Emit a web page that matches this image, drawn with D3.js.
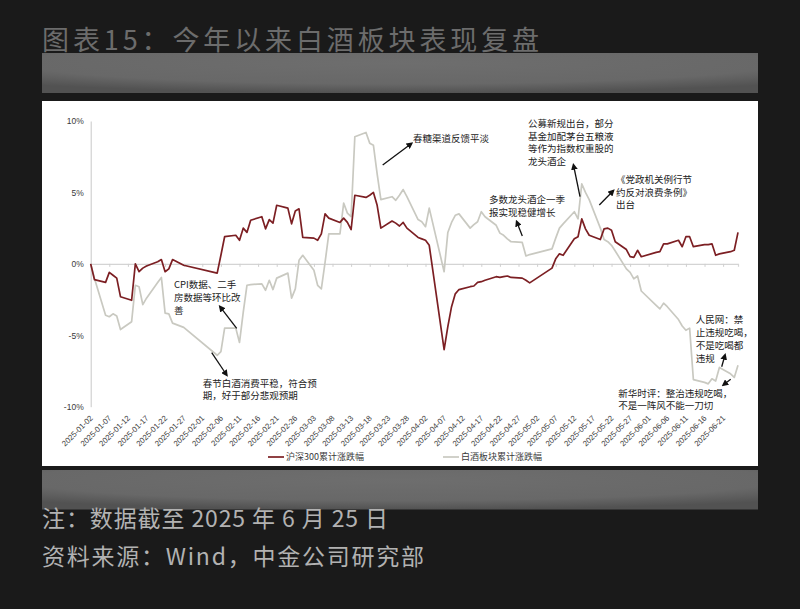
<!DOCTYPE html>
<html><head><meta charset="utf-8">
<script src="https://cdn.jsdelivr.net/npm/d3@7"></script>
<style>
html,body{margin:0;padding:0;background:#1a1a1a;}
svg{display:block;}
</style></head><body>
<svg id="c" width="800" height="609"></svg>
<script>
// ---------------- DATA ----------------
const tradeDates = [
"2025-01-02","2025-01-03","2025-01-06","2025-01-07","2025-01-08","2025-01-09","2025-01-10","2025-01-13","2025-01-14","2025-01-15","2025-01-16","2025-01-17","2025-01-20","2025-01-21","2025-01-22","2025-01-23","2025-01-24","2025-01-27",
"2025-02-05","2025-02-06","2025-02-07","2025-02-10","2025-02-11","2025-02-12","2025-02-13","2025-02-14","2025-02-17","2025-02-18","2025-02-19","2025-02-20","2025-02-21","2025-02-24","2025-02-25","2025-02-26","2025-02-27","2025-02-28",
"2025-03-03","2025-03-04","2025-03-05","2025-03-06","2025-03-07","2025-03-10","2025-03-11","2025-03-12","2025-03-13","2025-03-14","2025-03-17","2025-03-18","2025-03-19","2025-03-20","2025-03-21","2025-03-24","2025-03-25","2025-03-26","2025-03-27","2025-03-28","2025-03-31",
"2025-04-01","2025-04-02","2025-04-03","2025-04-07","2025-04-08","2025-04-09","2025-04-10","2025-04-11","2025-04-14","2025-04-15","2025-04-16","2025-04-17","2025-04-18","2025-04-21","2025-04-22","2025-04-23","2025-04-24","2025-04-25","2025-04-28","2025-04-29","2025-04-30",
"2025-05-06","2025-05-07","2025-05-08","2025-05-09","2025-05-12","2025-05-13","2025-05-14","2025-05-15","2025-05-16","2025-05-19","2025-05-20","2025-05-21","2025-05-22","2025-05-23","2025-05-26","2025-05-27","2025-05-28","2025-05-29","2025-05-30",
"2025-06-03","2025-06-04","2025-06-05","2025-06-06","2025-06-09","2025-06-10","2025-06-11","2025-06-12","2025-06-13","2025-06-16","2025-06-17","2025-06-18","2025-06-19","2025-06-20","2025-06-23","2025-06-24","2025-06-25"
];
// 沪深300累计涨跌幅 (%)
const hs300 = [
0,-1.1,-1.3,-0.6,-0.8,-1.0,-2.3,-2.55,0.0,-0.55,-0.3,-0.15,0.15,0.3,-0.55,-0.35,0.3,-0.1,
-0.65,0.6,1.9,2.0,1.65,2.5,2.2,3.05,3.3,2.45,3.1,2.85,4.1,3.9,2.8,3.7,3.85,1.85,
1.8,1.65,2.1,3.5,3.2,2.9,3.2,2.9,2.4,4.8,4.65,4.8,5.0,4.1,2.5,3.0,2.85,2.65,2.9,2.5,1.85,
1.75,1.65,1.3,-6.0,-4.4,-3.0,-2.1,-1.8,-1.6,-1.55,-1.3,-1.25,-1.15,-0.9,-0.95,-0.9,-0.85,-0.95,-1.0,-1.15,-1.33,
-0.3,0.35,0.7,0.6,1.75,1.9,3.15,2.45,2.0,1.7,2.45,2.5,2.35,1.55,1.0,0.5,0.45,0.95,0.5,
0.8,0.85,1.4,1.4,1.65,1.2,1.9,1.9,1.2,1.35,1.35,1.4,0.6,0.7,0.85,0.95,2.2
];
// 白酒板块累计涨跌幅 (%)
const baijiu = [
0,-1.0,-3.6,-3.7,-3.5,-3.65,-4.6,-4.05,-1.5,-1.6,-2.85,-2.4,-1.3,-0.95,-3.45,-3.5,-4.15,-4.45,
-6.4,-6.15,-4.5,-4.5,-5.5,-3.4,-1.5,-1.45,-1.4,-1.85,-1.15,-1.8,-1.0,-0.65,-2.4,-1.75,0.25,0.6,
-0.45,-1.5,-1.75,0.1,2.1,2.1,4.25,3.55,3.3,8.9,9.2,8.45,8.3,6.3,4.5,4.7,4.45,4.8,5.2,4.7,3.1,
2.95,2.6,3.9,-0.55,2.2,2.9,3.4,3.5,2.5,2.75,2.95,3.65,3.3,2.7,2.15,2.0,1.75,1.55,1.5,0.55,0.65,
1.05,1.8,2.5,2.8,3.65,3.15,5.6,5.0,4.5,2.5,1.7,1.55,1.3,0.9,-0.35,-0.6,-1.05,-0.85,-1.9,
-2.9,-3.15,-2.75,-3.0,-3.9,-4.35,-4.65,-4.5,-8.1,-8.3,-8.4,-8.05,-8.2,-7.25,-7.7,-7.95,-7.1
];
const xTickLabels = [
"2025-01-02","2025-01-07","2025-01-12","2025-01-17","2025-01-22","2025-01-27","2025-02-01","2025-02-06","2025-02-11","2025-02-16","2025-02-21","2025-02-26",
"2025-03-03","2025-03-08","2025-03-13","2025-03-18","2025-03-23","2025-03-28","2025-04-02","2025-04-07","2025-04-12","2025-04-17","2025-04-22","2025-04-27",
"2025-05-02","2025-05-07","2025-05-12","2025-05-17","2025-05-22","2025-05-27","2025-06-01","2025-06-06","2025-06-11","2025-06-16","2025-06-21"
];
const yTickValues = [-10,-5,0,5,10];
const seriesNames = ["沪深300累计涨跌幅","白酒板块累计涨跌幅"];
const titleText = "图表15：今年以来白酒板块表现复盘";
const noteText = "注：数据截至 2025 年 6 月 25 日";
const sourceText = "资料来源：Wind，中金公司研究部";
const annoTexts = [
  ["春糖渠道反馈平淡"],
  ["公募新规出台，部分","基金加配茅台五粮液","等作为指数权重股的","龙头酒企"],
  ["《党政机关例行节","约反对浪费条例》","出台"],
  ["多数龙头酒企一季","报实现稳健增长"],
  ["CPI数据、二手","房数据等环比改","善"],
  ["春节白酒消费平稳，符合预","期，好于部分悲观预期"],
  ["人民网：禁","止违规吃喝，","不是吃喝都","违规"],
  ["新华时评：整治违规吃喝，","不是一阵风不能一刀切"]
];

// ---------------- DRAW ----------------
const svg = d3.select("#c");
const parse = d3.timeParse("%Y-%m-%d");
const dates = tradeDates.map(parse);
const CJK = "'Noto Sans CJK SC','Noto Sans',sans-serif";

const defs = svg.append("defs");
const rg = defs.append("radialGradient").attr("id","band").attr("cx","50%").attr("cy","25%").attr("r","75%");
rg.append("stop").attr("offset","0%").attr("stop-color","#6e6e6e");
rg.append("stop").attr("offset","70%").attr("stop-color","#686868");
rg.append("stop").attr("offset","100%").attr("stop-color","#525252");
defs.append("marker").attr("id","ah").attr("viewBox","0 0 10 10").attr("refX",7).attr("refY",5)
  .attr("markerWidth",5.2).attr("markerHeight",5.2).attr("orient","auto")
  .append("path").attr("d","M0,0 L10,5 L0,10 z").attr("fill","#111");

svg.append("rect").attr("width",800).attr("height",609).attr("fill","#1a1a1a");
// title
svg.append("text").attr("x",42).attr("y",50).attr("fill","#6c6c6c")
  .attr("textLength",497).attr("lengthAdjust","spacing")
  .style("font-family",CJK).style("font-size","27px").text(titleText);
// bands
svg.append("rect").attr("x",42).attr("y",53).attr("width",716).attr("height",40).attr("fill","url(#band)");
svg.append("rect").attr("x",42).attr("y",470).attr("width",716).attr("height",39.5).attr("fill","url(#band)");
// white panel
svg.append("rect").attr("x",42).attr("y",101).attr("width",716).attr("height",365).attr("fill","#ffffff");

// scales
const x = d3.scaleTime().domain([parse("2025-01-02"), parse("2025-06-25")]).range([90.7, 738]);
const y = d3.scaleLinear().domain([-10,10]).range([406.7,121]);

// y axis
const yAxis = svg.append("g").attr("transform","translate(90.7,0)")
  .call(d3.axisLeft(y).tickValues(yTickValues).tickSize(0).tickPadding(7).tickFormat(d=>d+"%"));
yAxis.select(".domain").attr("stroke","#c8c8c8").attr("stroke-width",1);
yAxis.selectAll("text").attr("fill","#3a3a3a").style("font-family","'Liberation Sans',Arial,sans-serif").style("font-size","8.5px");

// x axis at zero (ticks only)
const tickDates = xTickLabels.map(parse);
const x0 = svg.append("g").attr("transform",`translate(0,${y(0)})`)
  .call(d3.axisBottom(x).tickValues(tickDates).tickSize(3).tickFormat(""));
x0.select(".domain").attr("stroke","#d4d4d4").attr("stroke-width",1.2);
x0.selectAll(".tick line").attr("stroke","#cfcfcf");

// x labels at bottom
const xl = svg.append("g").attr("transform",`translate(0,${y(-10)+14})`)
  .call(d3.axisBottom(x).tickValues(tickDates).tickSize(0).tickFormat(d3.timeFormat("%Y-%m-%d")));
xl.select(".domain").remove();
xl.selectAll("text").attr("fill","#3a3a3a").style("font-family","'Liberation Sans',Arial,sans-serif").style("font-size","7.8px")
  .attr("text-anchor","end").attr("dy","0").attr("y",0).attr("x",3)
  .attr("transform","rotate(-45)");

// lines
const line = d3.line().x((d,i)=>x(dates[i])).y(d=>y(d));
svg.append("path").datum(baijiu).attr("d",line).attr("fill","none").attr("stroke","#c9c9c1").attr("stroke-width",1.7).attr("stroke-linejoin","round");
svg.append("path").datum(hs300).attr("d",line).attr("fill","none").attr("stroke","#7c1f23").attr("stroke-width",1.7).attr("stroke-linejoin","round");

// legend
const lg = [{x:268, c:"#7c1f23"},{x:443, c:"#c9c9c1"}];
lg.forEach((l,i)=>{
  svg.append("line").attr("x1",l.x).attr("x2",l.x+16).attr("y1",457).attr("y2",457).attr("stroke",l.c).attr("stroke-width",1.7);
  svg.append("text").attr("x",l.x+18).attr("y",460.3).attr("fill","#3a3a3a")
    .style("font-family",CJK).style("font-size","9px").text(seriesNames[i]);
});

// annotations
const annoPos = [
  {x:413, y:138.5, dy:12.8, a:[382.7,165,411.5,143.5]},
  {x:528, y:123.3, dy:12.8, a:[580,196.7,573.5,165]},
  {x:616, y:179.3, dy:12.8, a:[599.3,205,613.3,190.7]},
  {x:489, y:200, dy:12.7, a:[522.3,236,516.7,221.7]},
  {x:174, y:284.5, dy:12.8, a:[236.7,328.3,220,306.7]},
  {x:202.7, y:383.3, dy:12.7, a:[211.7,352.7,226.7,375]},
  {x:695.7, y:320, dy:12.8, a:[721.7,366.7,725,355]},
  {x:618.3, y:394, dy:11.8, a:[730.7,379.3,723.3,385]}
];
annoTexts.forEach((lines,i)=>{
  const p = annoPos[i];
  const t = svg.append("text").attr("fill","#222").style("font-family",CJK).style("font-size","9.5px");
  lines.forEach((s,j)=>t.append("tspan").attr("x",p.x).attr("y",p.y+3.4+j*p.dy).text(s));
  svg.append("line").attr("x1",p.a[0]).attr("y1",p.a[1]).attr("x2",p.a[2]).attr("y2",p.a[3])
    .attr("stroke","#111").attr("stroke-width",1.3).attr("marker-end","url(#ah)");
});

// notes
svg.append("text").attr("x",42).attr("y",527).attr("fill","#b2b2b2").attr("textLength",346).attr("lengthAdjust","spacing")
  .style("font-family",CJK).style("font-size","23px").text(noteText);
svg.append("text").attr("x",42).attr("y",565).attr("fill","#b2b2b2").attr("textLength",382).attr("lengthAdjust","spacing")
  .style("font-family",CJK).style("font-size","23px").text(sourceText);
</script>
</body></html>
